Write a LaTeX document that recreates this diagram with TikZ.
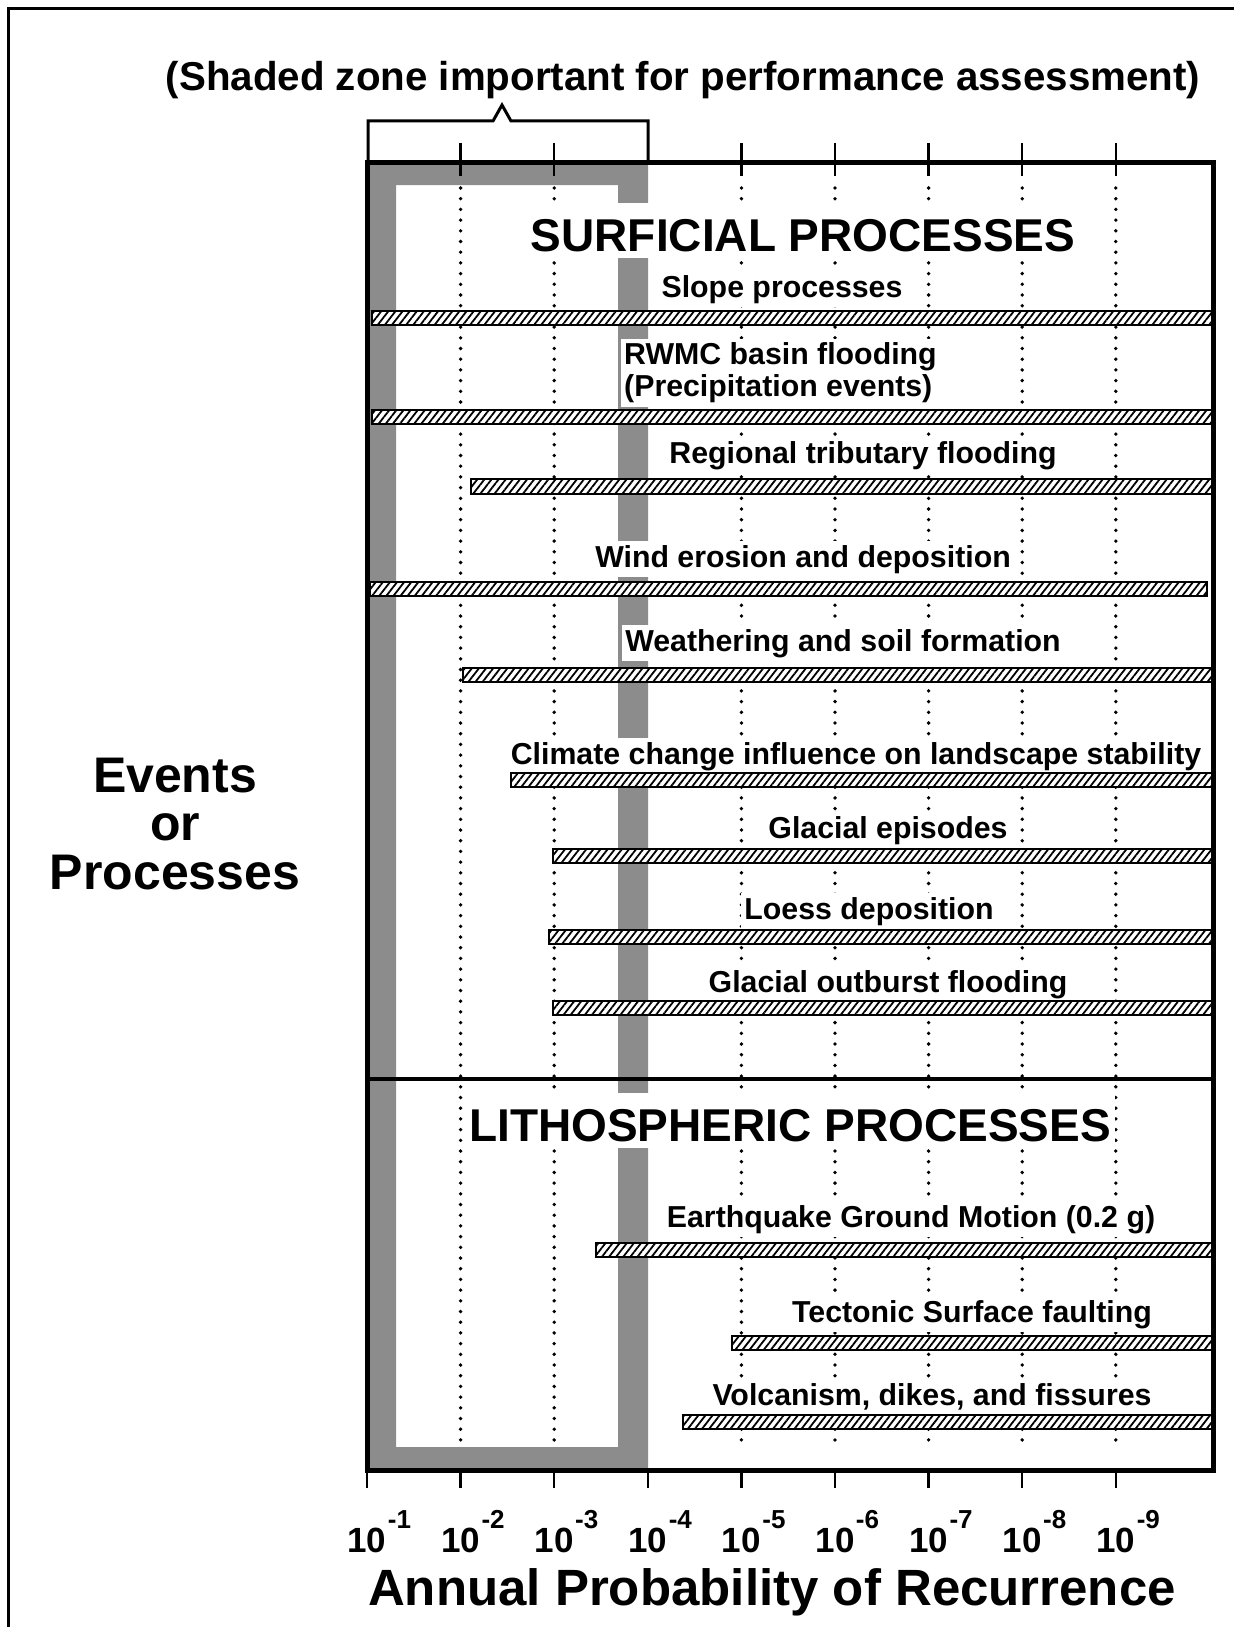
\documentclass[tikz,border=0pt]{standalone}
\usepackage{fontspec}
\setmainfont{Liberation Sans}
\usetikzlibrary{patterns.meta}
\newcommand{\tenpow}[1]{10\rlap{\hspace{1.5pt}\raisebox{24pt}{\fontsize{26}{26}\selectfont -#1}}}

\begin{document}
\begin{tikzpicture}[x = 1pt, y = -1pt,
  proc/.style = {fill = white, inner xsep = 3pt, inner ysep = 4pt, anchor = base,
                 font = \fontsize{30.3}{32}\selectfont\bfseries},
  heading/.style = {fill = white, inner xsep = 4pt, inner ysep = 7pt, text height = 41pt,
                    anchor = base, font = \fontsize{46}{46}\selectfont\bfseries},
  probbar/.style = {draw, line width = 2.4pt, preaction = {fill = white},
                    pattern = {Lines[angle = 52, distance = 5.6pt, line width = 1.8pt]}},
  zone/.style = {fill = black!45},
  gridline/.style = {line width = 3.8pt, line cap = round, dash pattern = on 0pt off 10.7pt},
  tickmark/.style = {line width = 2.5pt},
  decade/.style = {anchor = base, inner sep = 0pt, font = \fontsize{35}{35}\selectfont\bfseries}]
\useasboundingbox (0, 0) rectangle (1234, 1627);
\draw [line width = 3pt] (8, 1627) -- (8, 9) -- (1234, 9);
% dotted decades
\draw [gridline] (460.6, 188) -- (460.6, 1445) (554.2, 188) -- (554.2, 1445)
                 (741.4, 188) -- (741.4, 1445) (835.0, 188) -- (835.0, 1445)
                 (928.6, 188) -- (928.6, 1445) (1022.2, 188) -- (1022.2, 1445)
                 (1115.8, 188) -- (1115.8, 1445);
% shaded zone
\fill [zone, even odd rule] (367, 162) rectangle (648, 1470) (396, 185) rectangle (618, 1447);
% surficial
\draw (803, 251) node[heading] (surf) {SURFICIAL PROCESSES};
\draw (782, 297) node[proc] (slope) {Slope processes};
\draw (621, 373) node[proc, anchor = west, align = left] (rwmc) {RWMC basin flooding\\(Precipitation events)};
\draw (863, 463) node[proc] (trib) {Regional tributary flooding};
\draw (803, 567) node[proc] (wind) {Wind erosion and deposition};
\draw (843, 651) node[proc] (soil) {Weathering and soil formation};
\draw (856, 764) node[proc] (climate) {Climate change influence on landscape stability};
\draw (888, 838) node[proc] (glacial) {Glacial episodes};
\draw (869, 919) node[proc] (loess) {Loess deposition};
\draw (888, 992) node[proc] (outburst) {Glacial outburst flooding};
% lithospheric
\draw (790, 1141) node[heading] (litho) {LITHOSPHERIC PROCESSES};
\draw (911, 1227) node[proc] (quake) {Earthquake Ground Motion (0.2 g)};
\draw (972, 1322) node[proc] (fault) {Tectonic Surface faulting};
\draw (932, 1405) node[proc] (volc) {Volcanism, dikes, and fissures};
% bars
\draw [probbar] (372, 311) rectangle (1213, 325);
\draw [probbar] (372, 410) rectangle (1213, 424);
\draw [probbar] (471, 479) rectangle (1213, 494);
\draw [probbar] (370, 582) rectangle (1207, 596);
\draw [probbar] (463, 668) rectangle (1213, 682);
\draw [probbar] (511, 773) rectangle (1213, 787);
\draw [probbar] (553, 849) rectangle (1213, 863);
\draw [probbar] (549, 930) rectangle (1213, 944);
\draw [probbar] (553, 1001) rectangle (1213, 1015);
\draw [probbar] (596, 1243) rectangle (1213, 1257);
\draw [probbar] (732, 1336) rectangle (1213, 1350);
\draw [probbar] (683, 1415) rectangle (1213, 1429);
% frame
\draw [line width = 5pt] (367, 162) rectangle (1213, 1470);
\draw [line width = 4pt] (367, 1079) -- (1213, 1079);
\draw [tickmark] (460.6, 143) -- (460.6, 176) (554.2, 143) -- (554.2, 176)
                 (741.4, 143) -- (741.4, 176) (835.0, 143) -- (835.0, 176)
                 (928.6, 143) -- (928.6, 176) (1022.2, 143) -- (1022.2, 176)
                 (1115.8, 143) -- (1115.8, 176);
\draw [tickmark] (367, 1470) -- (367, 1488) (460.6, 1470) -- (460.6, 1488)
                 (554.2, 1470) -- (554.2, 1488) (647.8, 1470) -- (647.8, 1488)
                 (741.4, 1470) -- (741.4, 1488) (835.0, 1470) -- (835.0, 1488)
                 (928.6, 1470) -- (928.6, 1488) (1022.2, 1470) -- (1022.2, 1488)
                 (1115.8, 1470) -- (1115.8, 1488);
\draw [line width = 3pt, line join = miter] (368, 162) -- (368, 121) -- (493, 121) -- (502, 105)
      -- (511, 121) -- (648, 121) -- (648, 162);
\draw (683, 91) node[anchor = base, font = \fontsize{40.3}{40}\selectfont\bfseries] (note)
      {(Shaded zone important for performance assessment)};
% axis
\draw (367, 1552) node[decade] (d1) {\tenpow{1}};
\draw (460.6, 1552) node[decade] (d2) {\tenpow{2}};
\draw (554.2, 1552) node[decade] (d3) {\tenpow{3}};
\draw (647.8, 1552) node[decade] (d4) {\tenpow{4}};
\draw (741.4, 1552) node[decade] (d5) {\tenpow{5}};
\draw (835.0, 1552) node[decade] (d6) {\tenpow{6}};
\draw (928.6, 1552) node[decade] (d7) {\tenpow{7}};
\draw (1022.2, 1552) node[decade] (d8) {\tenpow{8}};
\draw (1115.8, 1552) node[decade] (d9) {\tenpow{9}};
\draw (772, 1605) node[anchor = base, font = \fontsize{51}{51}\selectfont\bfseries] (xlabel)
      {Annual Probability of Recurrence};
\draw (175, 824) node[align = center, font = \fontsize{50}{48.5}\selectfont\bfseries] (ylabel)
      {Events\\or\\Processes};
\end{tikzpicture}
\end{document}
